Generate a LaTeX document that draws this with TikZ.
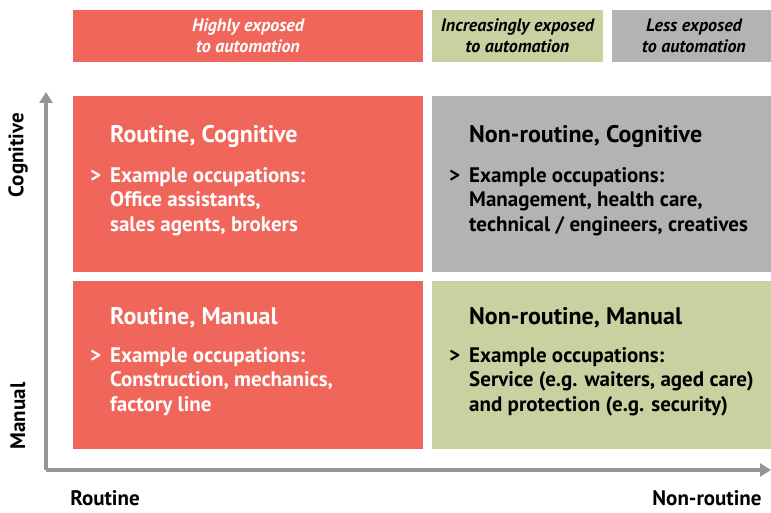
\documentclass[tikz,border=0pt]{standalone}
\usepackage{fontspec}
\setmainfont{PT Sans}
\usepackage{tikz}
\usetikzlibrary{positioning,arrows.meta}
\definecolor{hired}{RGB}{240,102,90}
\definecolor{incgreen}{RGB}{201,209,161}
\definecolor{lessgray}{RGB}{179,179,179}
\definecolor{axisgray}{RGB}{150,150,150}
\newcommand{\bulletgt}{\llap{>\hspace{9pt}}}

\begin{document}
\begin{tikzpicture}[%
		x=1pt,y=-1pt,
		headtext/.style={font=\fontsize{18}{21}\selectfont\bfseries\itshape,align=center},
		quadtitle/.style={font=\fontsize{24}{26}\selectfont\bfseries,anchor=north west,inner sep=0pt},
		quadtext/.style={font=\fontsize{21}{24.5}\selectfont\bfseries,align=left,anchor=north west,inner sep=0pt},
		axislabel/.style={font=\fontsize{21}{22}\selectfont\bfseries},
		axisline/.style={draw=axisgray,line width=3.2pt,-{Triangle[length=11pt,width=13pt]}}]
		\useasboundingbox (0,0) rectangle (771,513);
		% header bars
		\fill[hired] (73,10) rectangle (423,62);
		\fill[incgreen] (432,10) rectangle (603,62);
		\fill[lessgray] (612,10) rectangle (771,62);
		\node[headtext,text=white] (hhigh) at (248,36) {Highly exposed\\to automation};
		\node[headtext] (hinc) at (517.5,36) {Increasingly exposed\\to automation};
		\node[headtext] (hless) at (694,36) {Less exposed\\to automation};
		% quadrants
		\fill[hired] (73,96) rectangle (423,272);
		\fill[lessgray] (432,96) rectangle (771,272);
		\fill[hired] (73,281) rectangle (423,449);
		\fill[incgreen] (432,281) rectangle (771,449);
		\node[quadtitle,text=white] (rc) at (110,125.5) {Routine, Cognitive};
		\node[quadtext,text=white] (rcb) at (110,167) {\bulletgt Example occupations:\\Office assistants,\\sales agents, brokers};
		\node[quadtitle] (nc) at (469,125.5) {Non-routine, Cognitive};
		\node[quadtext] (ncb) at (469,167) {\bulletgt Example occupations:\\Management, health care,\\technical / engineers, creatives};
		\node[quadtitle,text=white] (rm) at (110,307.5) {Routine, Manual};
		\node[quadtext,text=white] (rmb) at (110,347) {\bulletgt Example occupations:\\Construction, mechanics,\\factory line};
		\node[quadtitle] (nm) at (469,307.5) {Non-routine, Manual};
		\node[quadtext] (nmb) at (469,347) {\bulletgt Example occupations:\\Service (e.g. waiters, aged care)\\and protection (e.g. security)};
		% axes
		\coordinate (orig) at (46,470);
		\coordinate (ytop) at (46,92);
		\coordinate (xend) at (771,470);
		\draw[axisline] (orig) -- (ytop);
		\draw[axisline] (orig) -- (xend);
		\node[axislabel,rotate=90] (cog) at (18,155) {Cognitive};
		\node[axislabel,rotate=90] (man) at (18,416) {Manual};
		\node[axislabel] (rout) at (105,498) {Routine};
		\node[axislabel] (nrout) at (707,498) {Non-routine};
	\end{tikzpicture}
\end{document}
